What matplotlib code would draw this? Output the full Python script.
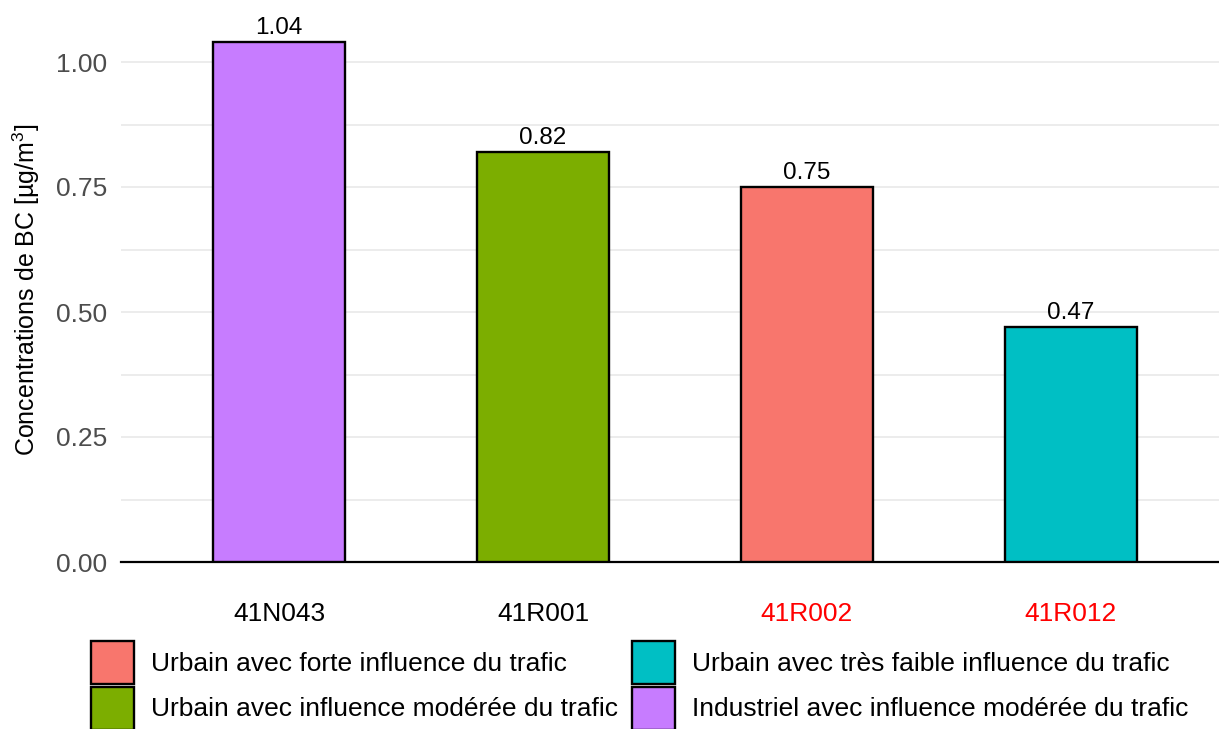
import numpy as np
import matplotlib.pyplot as plt
from matplotlib.patches import Patch

plt.rcParams['font.family'] = ['Liberation Sans', 'DejaVu Sans']
plt.rcParams['mathtext.fontset'] = 'custom'
plt.rcParams['mathtext.rm'] = 'Liberation Sans'
plt.rcParams['mathtext.it'] = 'Liberation Sans'

# Stations, mean BC concentrations and site type
stations = ['41N043', '41R001', '41R002', '41R012']
values = [1.04, 0.82, 0.75, 0.47]
types = ['Industriel avec influence modérée du trafic',
         'Urbain avec influence modérée du trafic',
         'Urbain avec forte influence du trafic',
         'Urbain avec très faible influence du trafic']
label_colors = ['black', 'black', 'red', 'red']

type_colors = {
    'Urbain avec forte influence du trafic': '#F8766D',
    'Urbain avec influence modérée du trafic': '#7CAE00',
    'Urbain avec très faible influence du trafic': '#00BFC4',
    'Industriel avec influence modérée du trafic': '#C77CFF',
}
legend_order = ['Urbain avec forte influence du trafic',
                'Urbain avec influence modérée du trafic',
                'Urbain avec très faible influence du trafic',
                'Industriel avec influence modérée du trafic']

W, H = 1219, 729
fig = plt.figure(figsize=(W / 100, H / 100), dpi=100)
ax = fig.add_axes([121 / W, (H - 562) / H, (1229 - 121) / W, (562 - 17) / H])

x = np.arange(1, len(stations) + 1)
ax.bar(x, values, width=0.5, color=[type_colors[t] for t in types],
       edgecolor='black', linewidth=1.7, zorder=3)
for xi, v in zip(x, values):
    ax.annotate(f'{v:.2f}', (xi, v), xytext=(0, 2), textcoords='offset points',
                ha='center', va='bottom', fontsize=17.5, color='black', zorder=4)

ax.set_xlim(0.4, 4.6)
ax.set_ylim(0, 1.09)
ax.set_yticks([0, 0.25, 0.5, 0.75, 1.0])
ax.set_yticklabels(['0.00', '0.25', '0.50', '0.75', '1.00'])
ax.set_yticks(np.arange(0.125, 1.09, 0.25), minor=True)
ax.grid(axis='y', which='both', color='#EBEBEB', linewidth=1.3, zorder=0)
ax.set_xticks(x)
ax.set_xticklabels(stations)
for lab, c in zip(ax.get_xticklabels(), label_colors):
    lab.set_color(c)

ax.tick_params(axis='both', which='both', length=0, labelsize=19)
ax.tick_params(axis='y', colors='#4D4D4D', pad=10)
ax.tick_params(axis='x', pad=29)
for s in ['top', 'right', 'left']:
    ax.spines[s].set_visible(False)
ax.spines['bottom'].set_linewidth(1.6)
ax.set_ylabel('Concentrations de BC [µg/m$^{3}$]', fontsize=18, labelpad=10)

handles = [Patch(facecolor=type_colors[t], edgecolor='black', linewidth=1.7)
           for t in legend_order]
fig.legend(handles, legend_order, ncol=2, loc='upper left',
           bbox_to_anchor=(91 / W, 1 - 641 / H), frameon=False, fontsize=19,
           handlelength=1.63, handleheight=2.13, handletextpad=0.65,
           labelspacing=0.1, columnspacing=0.53, borderpad=0, borderaxespad=0)

fig.savefig('out.png', dpi=100)
